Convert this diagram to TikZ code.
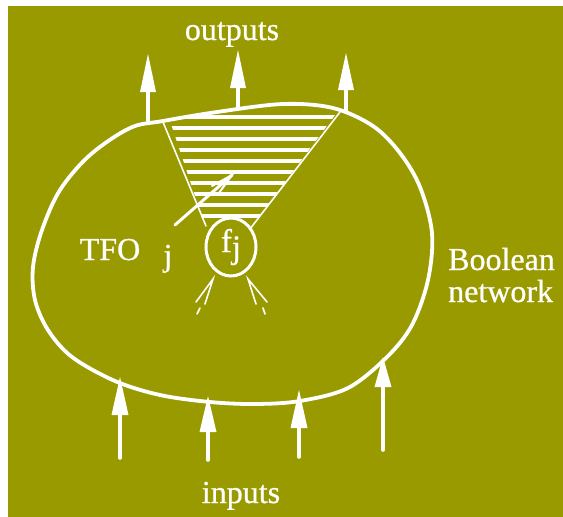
\documentclass[tikz,border=0pt]{standalone}
\usepackage{fontspec}
\setmainfont{Liberation Serif}[FakeBold=0.7]
\usetikzlibrary{shapes.geometric}
\definecolor{olivebg}{RGB}{153,153,0}
\def\blobpath{plot[smooth cycle, tension=0.55] coordinates {(130,128) (163,121) (217,112) (283,104) (333,108) (373,126) (400,153) (420,187) (432,233) (428,280) (412,325) (387,357) (348,388) (300,401) (255,404) (210,402) (160,395) (115,381) (72,357) (48,330) (35,300) (33,267) (42,230) (60,190) (90,155)}}
\begin{document}
\begin{tikzpicture}[x=1pt,y=-1pt,
  wline/.style={white, line width=3.6pt, line cap=round},
  thinw/.style={white, line width=1.6pt, line cap=round},
  hatchline/.style={white, line width=3.1pt},
  lbl/.style={text=white, font=\fontsize{32}{34}\selectfont, inner sep=0pt},
  headtri/.style={fill=white}]
\useasboundingbox (0,0) rectangle (563,517);
\fill[olivebg] (8,6) rectangle (563,517);

% hatching of the cone
\begin{scope}
  \clip \blobpath;
  \clip (163,100) -- (350,95) -- (250,229) -- (205,226) -- cycle;
  \foreach \yy in {117,128,...,217} {
    \draw[hatchline] (150,\yy) -- (360,\yy);
  }
\end{scope}
\draw[thinw] (163,122) -- (206,226);
\draw[thinw] (340,112) -- (250,229);

% blob
\draw[white, line width=3.8pt] \blobpath;

% output arrows
\foreach \n/\x/\tip/\base/\bot in {o1/148/54/92/122, o2/238/50/88/107, o3/346/53/90/112} {
  \coordinate (\n s) at (\x,\bot);
  \coordinate (\n b) at (\x,\base);
  \coordinate (\n t) at (\x,\tip);
  \draw[wline] (\n s) -- (\n b);
  \fill[headtri] ([xshift=-8pt]\n b) -- (\n t) -- ([xshift=8pt]\n b) -- cycle;
}
% input arrows
\foreach \n/\x/\tip/\base/\bot in {i1/120/377/415/458, i2/208/396/432/460, i3/299/390/428/457, i4/383/357/387/450} {
  \coordinate (\n s) at (\x,\bot);
  \coordinate (\n b) at (\x,\base);
  \coordinate (\n t) at (\x,\tip);
  \draw[wline] (\n s) -- (\n b);
  \fill[headtri] ([xshift=-8.5pt]\n b) -- (\n t) -- ([xshift=8.5pt]\n b) -- cycle;
}

% node f_j
\node[ellipse, draw=white, line width=3pt, fill=olivebg, minimum width=50pt, minimum height=58pt, inner sep=0pt,
      text=white, font=\fontsize{33}{34}\selectfont] (fj) at (231,247) {f\raisebox{-6pt}{j}};

% diagonal arrow in cone
\coordinate (da) at (175,225);
\coordinate (dt) at (232,175);
\coordinate (db1) at (219,193);
\coordinate (db2) at (212,186);
\draw[wline, line width=3pt] (da) -- (dt);
\draw[thinw, line width=2pt] (db1) -- (dt) -- (db2);

% small incoming arrows under f_j
\coordinate (la) at (213,279);
\coordinate (la1) at (196,302);
\coordinate (la2) at (205,304);
\coordinate (la3) at (200,308);
\coordinate (la4) at (197,314);
\draw[thinw] (la1) -- (la) -- (la2);
\draw[thinw] (la3) -- (la4);
\coordinate (ra) at (248,279);
\coordinate (ra1) at (267,302);
\coordinate (ra2) at (256,304);
\coordinate (ra3) at (263,308);
\coordinate (ra4) at (265,314);
\draw[thinw] (ra1) -- (ra) -- (ra2);
\draw[thinw] (ra3) -- (ra4);

% labels
\node[lbl, anchor=base] (outputs) at (232,40) {outputs};
\node[lbl, anchor=base] (inputs) at (241,503) {inputs};
\node[lbl, anchor=base] (tfo) at (110,260) {TFO};
\node[lbl, anchor=base] (jlab) at (168,266) {j};
\node[lbl, anchor=base west] (bool) at (448,270) {Boolean};
\node[lbl, anchor=base west] (netw) at (448,302) {network};
\end{tikzpicture}
\end{document}
